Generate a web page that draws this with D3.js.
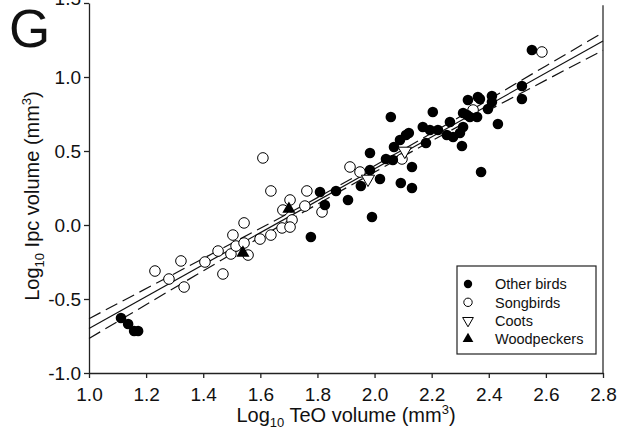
<!DOCTYPE html>
<html>
<head>
<meta charset="utf-8">
<script src="https://cdn.jsdelivr.net/npm/d3@7"></script>
<style>
  body { margin: 0; background: #fff; }
  svg text { font-family: "Liberation Sans", Arial, sans-serif; fill: #111; }
</style>
</head>
<body>
<div id="chart"></div>
<script>
// data (log10 TeO volume, log10 Ipc volume)
var otherX = [1.112,1.137,1.158,1.172,1.777,1.809,1.826,1.865,1.907,1.952,1.984,1.984,1.991,2.019,2.040,2.057,2.064,2.068,2.089,2.092,2.110,2.120,2.131,2.131,2.169,2.180,2.194,2.204,2.222,2.253,2.264,2.275,2.299,2.306,2.310,2.310,2.324,2.327,2.334,2.359,2.362,2.369,2.373,2.397,2.411,2.411,2.432,2.516,2.516,2.551];
var otherY = [-0.628,-0.669,-0.716,-0.716,-0.081,0.223,0.135,0.230,0.169,0.264,0.486,0.372,0.054,0.311,0.446,0.730,0.439,0.527,0.574,0.284,0.608,0.622,0.392,0.250,0.662,0.554,0.642,0.764,0.642,0.608,0.696,0.595,0.622,0.534,0.757,0.662,0.743,0.845,0.730,0.730,0.865,0.851,0.358,0.784,0.872,0.831,0.682,0.939,0.851,1.182];

var songX = [1.231,1.280,1.322,1.333,1.406,1.452,1.469,1.497,1.504,1.515,1.543,1.543,1.557,1.609,1.599,1.637,1.637,1.676,1.679,1.704,1.711,1.704,1.756,1.763,1.816,1.914,1.949,2.096,2.345,2.586];
var songY = [-0.311,-0.365,-0.243,-0.419,-0.250,-0.176,-0.331,-0.196,-0.068,-0.142,0.014,-0.122,-0.203,0.453,-0.095,-0.068,0.230,-0.020,0.101,0.169,0.034,-0.014,0.128,0.230,0.088,0.392,0.358,0.446,0.777,1.169];

var cootX = [1.977, 2.106];
var cootY = [0.311, 0.500];

var woodX = [1.539, 1.700];
var woodY = [-0.189, 0.108];

// regression line and 95% confidence band
var fitX = [1.0, 2.8];
var fitY = [-0.70, 1.243];
var bandX = [1.0, 1.4, 1.8, 2.2, 2.6, 2.8];
var bandUpper = [-0.633, -0.226, 0.185, 0.621, 1.075, 1.30];
var bandLower = [-0.767, -0.310, 0.141, 0.569, 0.979, 1.18];

var xTicks = [1.0,1.2,1.4,1.6,1.8,2.0,2.2,2.4,2.6,2.8];
var yTicks = [-1.0,-0.5,0.0,0.5,1.0,1.5];
var legendLabels = ["Other birds","Songbirds","Coots","Woodpeckers"];

var W = 620, H = 436;
var margin = {top: 3, right: 17, bottom: 63, left: 89};

var svg = d3.select("#chart").append("svg")
    .attr("width", W)
    .attr("height", H);

var x = d3.scaleLinear().domain([1.0, 2.8]).range([margin.left, W - margin.right]);
var y = d3.scaleLinear().domain([-1.0, 1.5]).range([H - margin.bottom, margin.top]);

// right border of the frame
svg.append("line")
    .attr("x1", x(2.8)).attr("x2", x(2.8))
    .attr("y1", y(1.485)).attr("y2", y(-1.0))
    .attr("stroke", "#777").attr("stroke-width", 2);

// axes
var fmt = function(d) { return d.toFixed(1); };
var xAxis = svg.append("g")
    .attr("transform", "translate(0," + y(-1.0) + ")")
    .call(d3.axisBottom(x).tickValues(xTicks).tickFormat(fmt).tickSize(5).tickSizeOuter(0));
var yAxis = svg.append("g")
    .attr("transform", "translate(" + x(1.0) + ",0)")
    .call(d3.axisLeft(y).tickValues(yTicks).tickFormat(fmt).tickSize(5).tickSizeOuter(0));

[xAxis, yAxis].forEach(function(g) {
  g.selectAll("path, line").attr("stroke", "#222").attr("stroke-width", 1.3);
  g.selectAll("text").attr("font-size", 19).attr("fill", "#111")
    .attr("font-family", "'Liberation Sans', Arial, sans-serif");
});
xAxis.selectAll("text").attr("dy", "1.05em");
yAxis.selectAll("text").attr("x", -8);
// the top label sits at the cropped edge of the figure
yAxis.selectAll(".tick text").filter(function(d) { return d === 1.5; }).attr("dy", "0.1em");

// regression line and confidence band
var line = d3.line().x(function(d) { return x(d[0]); }).y(function(d) { return y(d[1]); });
var curved = d3.line().x(function(d) { return x(d[0]); }).y(function(d) { return y(d[1]); })
    .curve(d3.curveMonotoneX);

svg.append("path")
    .attr("d", line(d3.zip(fitX, fitY)))
    .attr("fill", "none").attr("stroke", "#111").attr("stroke-width", 1.2);
[bandUpper, bandLower].forEach(function(b) {
  svg.append("path")
      .attr("d", curved(d3.zip(bandX, b)))
      .attr("fill", "none").attr("stroke", "#111").attr("stroke-width", 1.2)
      .attr("stroke-dasharray", "13,6");
});

// points
var r = 5.3;
svg.append("g").selectAll("circle")
  .data(d3.zip(songX, songY))
  .enter().append("circle")
    .attr("cx", function(d) { return x(d[0]); })
    .attr("cy", function(d) { return y(d[1]); })
    .attr("r", r)
    .attr("fill", "#fff").attr("stroke", "#000").attr("stroke-width", 1);

svg.append("g").selectAll("circle")
  .data(d3.zip(otherX, otherY))
  .enter().append("circle")
    .attr("cx", function(d) { return x(d[0]); })
    .attr("cy", function(d) { return y(d[1]); })
    .attr("r", r)
    .attr("fill", "#000");

var tri = d3.symbol().type(d3.symbolTriangle).size(75);
svg.append("g").selectAll("path")
  .data(d3.zip(cootX, cootY))
  .enter().append("path")
    .attr("d", tri)
    .attr("transform", function(d) { return "translate(" + x(d[0]) + "," + y(d[1]) + ") rotate(180)"; })
    .attr("fill", "#fff").attr("stroke", "#000").attr("stroke-width", 1);

svg.append("g").selectAll("path")
  .data(d3.zip(woodX, woodY))
  .enter().append("path")
    .attr("d", tri)
    .attr("transform", function(d) { return "translate(" + x(d[0]) + "," + y(d[1]) + ")"; })
    .attr("fill", "#000");

// legend
var lg = svg.append("g").attr("transform", "translate(457,266)");
lg.append("rect").attr("width", 139).attr("height", 88)
    .attr("fill", "#fff").attr("stroke", "#222").attr("stroke-width", 1.2);
var rows = lg.selectAll("g.row").data(legendLabels).enter().append("g")
    .attr("transform", function(d, i) { return "translate(0," + (18 + i * 18.3) + ")"; });
rows.append("text").attr("x", 38).attr("dy", "0.36em").attr("font-size", 14.5)
    .text(function(d) { return d; });
var lsym = d3.symbol().type(d3.symbolTriangle).size(50);
rows.each(function(d, i) {
  var g = d3.select(this);
  if (i === 0) g.append("circle").attr("cx", 11).attr("r", 4.2).attr("fill", "#000");
  if (i === 1) g.append("circle").attr("cx", 11).attr("r", 4.2).attr("fill", "#fff").attr("stroke", "#000");
  if (i === 2) g.append("path").attr("d", lsym).attr("transform", "translate(11,0) rotate(180)")
      .attr("fill", "#fff").attr("stroke", "#000");
  if (i === 3) g.append("path").attr("d", lsym).attr("transform", "translate(11,0)").attr("fill", "#000");
});

// axis titles
var xt = svg.append("text").attr("x", (x(1.0) + x(2.8)) / 2).attr("y", 422)
    .attr("text-anchor", "middle").attr("font-size", 20);
xt.append("tspan").text("Log");
xt.append("tspan").attr("font-size", 13).attr("dy", 5).text("10");
xt.append("tspan").attr("dy", -5).text(" TeO volume (mm");
xt.append("tspan").attr("font-size", 13).attr("dy", -8).text("3");
xt.append("tspan").attr("dy", 8).text(")");

var yt = svg.append("text")
    .attr("transform", "translate(39," + 196 + ") rotate(-90)")
    .attr("text-anchor", "middle").attr("font-size", 20);
yt.append("tspan").text("Log");
yt.append("tspan").attr("font-size", 13).attr("dy", 5).text("10");
yt.append("tspan").attr("dy", -5).text(" Ipc volume (mm");
yt.append("tspan").attr("font-size", 13).attr("dy", -8).text("3");
yt.append("tspan").attr("dy", 8).text(")");

// panel letter
svg.append("text").attr("x", 9).attr("y", 47).attr("font-size", 53).text("G");
</script>
</body>
</html>
